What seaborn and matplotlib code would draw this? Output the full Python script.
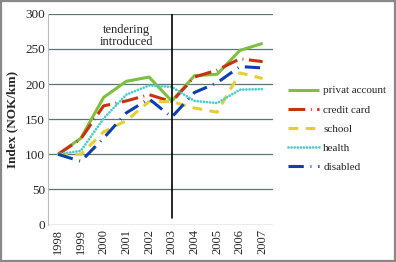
import matplotlib
matplotlib.use("Agg")
import matplotlib.pyplot as plt
import seaborn as sns
import pandas as pd
from matplotlib.patches import Rectangle

years = [1998, 1999, 2000, 2001, 2002, 2003, 2004, 2005, 2006, 2007]
privat_account = [100, 123, 181, 204, 210, 176, 212, 214, 248, 258]
credit_card = [100, 122, 169, 176, 185, 175, 210, 220, 236, 232]
school = [100, 100, 132, 148, 175, 175, 166, 160, 216, 208]
health = [100, 105, 151, 185, 198, 196, 176, 173, 192, 193]
disabled = [100, 90, 123, 159, 179, 153, 188, 202, 225, 223]

series_names = ["privat account", "credit card", "school", "health", "disabled"]
series_values = [privat_account, credit_card, school, health, disabled]
tick_labels = [str(y) for y in years]

colors = ["#7fbf3f", "#c8320e", "#e6cf34", "#4ccccc", "#0d3fb0"]
dashes = [(None, None), (5.5, 1.8, 0.3, 1.8), (3.2, 2.4), (0.01, 1.1), (5.0, 2.2, 0.3, 2.2)]
caps = ["butt", "butt", "butt", "round", "butt"]
widths = [2.2, 2.2, 2.2, 2.0, 2.2]

sns.set_theme(style="white")
plt.rcParams["font.family"] = ["Liberation Serif", "DejaVu Serif"]

fig = plt.figure(figsize=(3.96, 2.62), dpi=100)
ax = fig.add_axes([0.121, 0.143, 0.568, 0.804])

df = pd.DataFrame({"year": years})
for name, vals in zip(series_names, series_values):
    df[name] = vals
long = df.melt(id_vars="year", var_name="series", value_name="index")

for name, col, d, cap, w in zip(series_names, colors, dashes, caps, widths):
    sub = long[long["series"] == name]
    sns.lineplot(data=sub, x="year", y="index", ax=ax, color=col, lw=w,
                 label=name, legend=False)
    ln = ax.lines[-1]
    if d[0] is not None:
        ln.set_dashes(d)
    ln.set_dash_capstyle(cap)
    ln.set_solid_capstyle("butt")

ax.set_xlim(1997.55, 2007.45)
ax.set_ylim(0, 300)
ax.set_yticks(range(0, 301, 50))
ax.set_xticks(years)
ax.set_xticklabels(tick_labels, rotation=90, fontsize=9)
ax.tick_params(axis="y", labelsize=9.5, pad=2, length=0)
ax.tick_params(axis="x", pad=3, length=0)
ax.yaxis.grid(True, color="#5d7575", lw=0.9)
ax.set_axisbelow(True)
for s in ["top", "right", "bottom"]:
    ax.spines[s].set_visible(False)
ax.spines["left"].set_color("#b8c0c0")
ax.spines["left"].set_linewidth(0.8)
ax.set_xlabel("")
ax.set_ylabel("Index (NOK/km)", fontsize=9.5, fontweight="bold", labelpad=5)

ax.plot([2003, 2003], [10, 300], color="black", lw=1.2, zorder=5)
ax.text(2001.0, 251, "tendering\nintroduced", ha="center", va="bottom",
        fontsize=9, linespacing=1.05)

handles, labels = ax.get_legend_handles_labels()
leg = fig.legend(handles, labels, loc="upper left", bbox_to_anchor=(0.715, 0.69),
                 frameon=False, fontsize=8, handlelength=2.8, handletextpad=0.4,
                 labelspacing=0.85, borderaxespad=0)

fig.patches.append(Rectangle((0.003, 0.004), 0.994, 0.992, transform=fig.transFigure,
                             fill=False, edgecolor="#888888", lw=1.6))
fig.savefig("out.png", dpi=100)
